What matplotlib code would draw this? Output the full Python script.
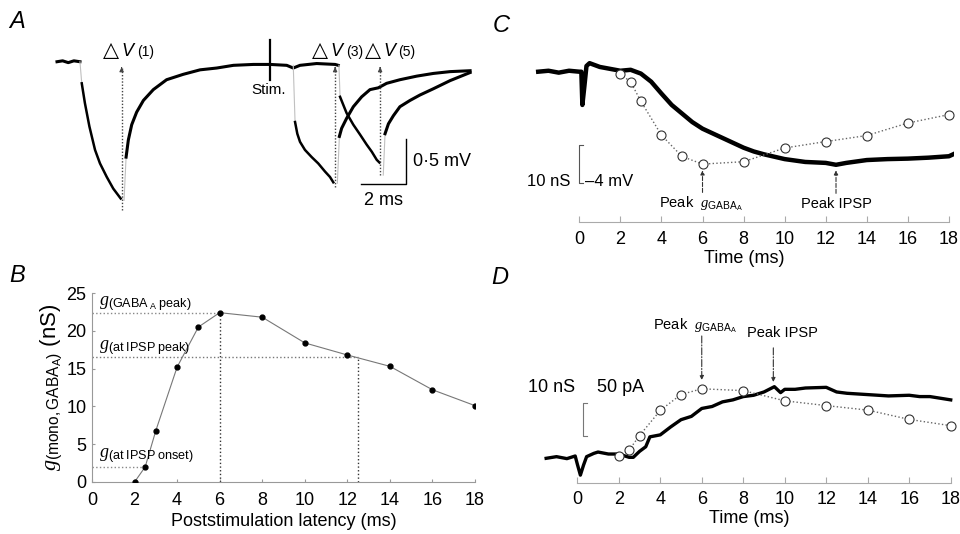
import matplotlib
matplotlib.use('Agg')
import matplotlib.pyplot as plt

plt.rcParams['font.family'] = ['Liberation Sans', 'DejaVu Sans']
plt.rcParams['mathtext.fontset'] = 'custom'
plt.rcParams['mathtext.rm'] = 'Liberation Sans'
plt.rcParams['mathtext.it'] = 'Liberation Serif:italic'
plt.rcParams['mathtext.bf'] = 'Liberation Sans:bold'

# ---------------- data ----------------
# Panel B / C / D : conductance estimates
latency_ms = [2, 2.5, 3, 4, 5, 6, 8, 10, 12, 14, 16, 18]
g_gaba_nS = [0, 2.0, 6.8, 15.2, 20.5, 22.4, 21.8, 18.4, 16.8, 15.3, 12.2, 10.1]
t_gpeak, g_gpeak = 6.0, 22.4
t_ipsp_peak, g_at_ipsp_peak = 12.5, 16.5
t_onset, g_at_onset = 2.5, 2.0
b_xticks = [0, 2, 4, 6, 8, 10, 12, 14, 16, 18]
b_yticks = [0, 5, 10, 15, 20, 25]

# Panel C : voltage trace (mV, relative to baseline)
c_time = [-2.0, -1.5, -1.0, -0.5, 0.0, 0.1, 0.15, 0.25, 0.35, 0.5, 1.0, 1.5, 2.0, 2.5,
          3.0, 3.5, 4.0, 4.5, 5.0, 5.5, 6.0, 6.5, 7.0, 7.5, 8.0, 8.5, 9.0, 10.0, 11.0,
          12.0, 12.5, 13.0, 14.0, 15.0, 16.0, 17.0, 18.0, 18.2]
c_mv = [0.0, 0.1, -0.1, 0.1, 0.0, 0.0, -3.5, -1.5, 0.6, 0.9, 0.5, 0.3, 0.1, 0.2,
        -0.2, -1.05, -2.3, -3.5, -4.4, -5.3, -6.0, -6.5, -7.0, -7.5, -8.0, -8.4, -8.7,
        -9.2, -9.5, -9.6, -9.8, -9.6, -9.3, -9.2, -9.15, -9.05, -8.9, -8.7]

# Panel D : current trace (pA, relative to baseline)
d_time = [-1.5, -1.0, -0.5, -0.1, 0.0, 0.15, 0.3, 0.45, 0.8, 1.0, 1.5, 2.0, 2.5, 2.7,
          3.0, 3.3, 3.5, 4.0, 4.5, 5.0, 5.5, 6.0, 6.5, 7.0, 7.5, 8.0, 8.5, 9.0, 9.5,
          9.8, 10.0, 10.5, 11.0, 12.0, 12.5, 13.0, 14.0, 15.0, 16.0, 16.5, 17.0, 18.0]
d_pa = [-1.5, 1, -2, 2, -10, -27, -12, 1, 6, 8, 5, 5, 0, 0,
        9, 16, 31, 34, 46, 57, 62, 74, 77, 84, 87, 92, 94, 99, 107,
        98, 103, 103, 105, 106, 99, 97, 95, 93, 94, 92, 92, 87]

# Panel A : voltage traces (ms, mV)
a1_base_t = [0.0, 0.25, 0.5, 0.75, 1.02]
a1_base_v = [0.0, 0.01, -0.01, 0.01, 0.0]
a1_fall_t = [1.10, 1.24, 1.44, 1.69, 1.91, 2.21, 2.50, 2.83]
a1_fall_v = [-0.24, -0.46, -0.72, -0.98, -1.13, -1.28, -1.41, -1.52]
a1_rise_t = [3.07, 3.17, 3.32, 3.54, 3.84, 4.28, 4.87, 5.61, 6.36, 7.10, 7.84, 8.73,
             9.47, 10.21, 10.50, 10.80, 11.54, 12.36, 12.50]
a1_rise_v = [-1.06, -0.87, -0.70, -0.56, -0.43, -0.31, -0.20, -0.14, -0.09, -0.07, -0.04,
             -0.03, -0.03, -0.04, -0.07, -0.04, -0.02, -0.03, -0.04]
a3_fall_t = [10.58, 10.68, 10.80, 11.02, 11.32, 11.61, 11.91, 12.13, 12.28]
a3_fall_v = [-0.67, -0.80, -0.89, -0.98, -1.06, -1.13, -1.22, -1.28, -1.34]
a3_rise_t = [12.55, 12.65, 12.87, 13.17, 13.54, 13.91, 14.28, 14.65, 15.24, 15.99,
             16.73, 17.47, 18.36]
a3_rise_v = [-0.83, -0.74, -0.63, -0.50, -0.39, -0.31, -0.29, -0.24, -0.20, -0.16,
             -0.13, -0.11, -0.10]
a5_fall_t = [12.58, 12.87, 13.17, 13.47, 13.76, 13.99, 14.21, 14.33]
a5_fall_v = [-0.39, -0.57, -0.70, -0.81, -0.92, -1.00, -1.09, -1.12]
a5_rise_t = [14.58, 14.73, 14.95, 15.24, 15.69, 16.13, 16.73, 17.47, 18.36]
a5_rise_v = [-0.80, -0.69, -0.60, -0.50, -0.43, -0.37, -0.30, -0.21, -0.12]
a_markers_t = [2.87, 12.36, 14.36]          # dV(1), dV(3), dV(5)
a_markers_vmin = [-1.65, -1.39, -1.26]
a_marker_labels = ['(1)', '(3)', '(5)']
a_label_t = [2.06, 11.35, 13.70]
a_stim_t = 9.47

# ---------------- figure ----------------
W, H = 960, 534
fig = plt.figure(figsize=(W / 100, H / 100), dpi=100)


def ax_px(l, t, r, b):
    return fig.add_axes([l / W, 1 - b / H, (r - l) / W, (b - t) / H])


TRACE = 'black'
FAINT = '#c0c0c0'
DOT = '#444444'

# ---------------- Panel A ----------------
axA = ax_px(40, 0, 480, 230)
axA.set_xlim(-0.756, 18.8)
axA.set_ylim(-1.87, 0.686)
axA.axis('off')
axA.plot(a1_base_t, a1_base_v, color=TRACE, lw=2.2)
axA.plot([a1_base_t[-1], a1_fall_t[0]], [0.0, a1_fall_v[0]], color=FAINT, lw=0.8)
axA.plot(a1_fall_t, a1_fall_v, color=TRACE, lw=1.8)
axA.plot([2.98, a1_rise_t[0]], [-1.54, a1_rise_v[0]], color=FAINT, lw=0.8)
axA.plot(a1_rise_t, a1_rise_v, color=TRACE, lw=2.2)
axA.plot([10.50, a3_fall_t[0]], [-0.04, a3_fall_v[0]], color=FAINT, lw=0.8)
axA.plot(a3_fall_t, a3_fall_v, color=TRACE, lw=1.8)
axA.plot([12.46, a3_rise_t[0]], [-1.35, a3_rise_v[0]], color=FAINT, lw=0.8)
axA.plot(a3_rise_t, a3_rise_v, color=TRACE, lw=2.2)
axA.plot([12.53, a5_fall_t[0]], [-0.04, a5_fall_v[0]], color=FAINT, lw=0.8)
axA.plot(a5_fall_t, a5_fall_v, color=TRACE, lw=1.8)
axA.plot([14.50, a5_rise_t[0]], [-1.26, a5_rise_v[0]], color=FAINT, lw=0.8)
axA.plot(a5_rise_t, a5_rise_v, color=TRACE, lw=2.2)
# stimulus
axA.plot([a_stim_t, a_stim_t], [0.24, -0.20], color=TRACE, lw=1.6)
axA.text(a_stim_t - 0.08, -0.31, 'Stim.', ha='center', va='center', fontsize=11)
# dV markers
for t, vmin, lab, lt in zip(a_markers_t, a_markers_vmin, a_marker_labels, a_label_t):
    axA.plot([t, t], [vmin, -0.07], color=DOT, lw=1.0, ls=(0, (1, 1.3)))
    axA.annotate('', xy=(t, -0.03), xytext=(t, -0.10),
                 arrowprops=dict(arrowstyle='-|>', color=DOT, lw=0.8, mutation_scale=6))
    axA.text(lt, 0.06, '\u25B3', ha='left', va='baseline', fontsize=15,
             family=['DejaVu Sans'])
    axA.text(lt + 0.80, 0.06, 'V', ha='left', va='baseline', fontsize=13, style='italic')
    axA.text(lt + 1.48, 0.06, lab, ha='left', va='baseline', fontsize=10)
# scale bar
axA.plot([13.51, 15.51, 15.51], [-1.363, -1.363, -0.863], color=TRACE, lw=1.0)
axA.text(15.84, -1.11, '0\u00b75 mV', ha='left', va='center', fontsize=13)
axA.text(14.5, -1.54, '2 ms', ha='center', va='center', fontsize=13)

# ---------------- Panel B ----------------
axB = ax_px(92, 293, 475, 482)
axB.set_xlim(0, 18)
axB.set_ylim(0, 25)
for s in ['top', 'right']:
    axB.spines[s].set_visible(False)
for s in ['left', 'bottom']:
    axB.spines[s].set_color('#999999')
    axB.spines[s].set_linewidth(0.8)
axB.set_xticks(b_xticks)
axB.set_yticks(b_yticks)
axB.tick_params(axis='both', direction='in', length=2, color='#999999', labelsize=13)
axB.tick_params(axis='x', pad=7)
axB.tick_params(axis='y', pad=4)
axB.plot([0, t_gpeak], [g_gpeak, g_gpeak], ls=':', color='#888888', lw=1)
axB.plot([t_gpeak, t_gpeak], [0, g_gpeak], ls=':', color='#333333', lw=1)
axB.plot([0, t_ipsp_peak], [g_at_ipsp_peak, g_at_ipsp_peak], ls=':', color='#777777', lw=1)
axB.plot([t_ipsp_peak, t_ipsp_peak], [0, g_at_ipsp_peak], ls=':', color='#333333', lw=1)
axB.plot([0, t_onset], [g_at_onset, g_at_onset], ls=':', color='#888888', lw=1)
axB.plot(latency_ms, g_gaba_nS, color='#777777', lw=0.8, marker='o', ms=3.5,
         mfc='black', mec='black', zorder=3)
axB.text(0.35, 23.6, r'$g_{\mathrm{(GABA_{\ A}\ peak)}}$', fontsize=13, ha='left', va='center')
axB.text(0.35, 17.8, r'$g_{\mathrm{(at\ IPSP\ peak)}}$', fontsize=13, ha='left', va='center')
axB.text(0.35, 3.5, r'$g_{\mathrm{(at\ IPSP\ onset)}}$', fontsize=13, ha='left', va='center')
axB.set_xlabel('Poststimulation latency (ms)', fontsize=13, labelpad=3)
axB.set_ylabel(r'$g_{\mathrm{(mono,GABA_A)}}$ (nS)', fontsize=16, labelpad=2)

# ---------------- Panel C ----------------
axC = ax_px(534.1, 30, 954.1, 221.7)
axC.set_xlim(-2.2, 18.25)
axC.set_ylim(-15.79, 4.39)
for s in ['top', 'right', 'left']:
    axC.spines[s].set_visible(False)
axC.spines['bottom'].set_bounds(0, 18)
axC.spines['bottom'].set_color('#aaaaaa')
axC.spines['bottom'].set_linewidth(0.8)
axC.set_yticks([])
axC.set_xticks(b_xticks)
axC.tick_params(axis='x', direction='in', length=4, color='#aaaaaa', labelsize=13, pad=7)
axC.set_xlabel('Time (ms)', fontsize=13, labelpad=1)
axC.plot(c_time, c_mv, color=TRACE, lw=3.2, zorder=2)
axC2 = axC.twinx()
axC2.set_ylim(36.7, -10.9)
axC2.axis('off')
axC2.plot(latency_ms, g_gaba_nS, ls=':', color='#666666', lw=1, marker='o', ms=6.5,
          mfc='white', mec='#333333', mew=0.8, zorder=3)
# scale bracket
axC.plot([0.2, 0, 0, 0.2], [-7.73, -7.73, -11.73, -11.73], color='#555555', lw=0.8)
axC.text(-0.45, -11.6, '10 nS', ha='right', va='center', fontsize=12)
axC.text(0.3, -11.6, '\u20134 mV', ha='left', va='center', fontsize=12)
# peak markers
axC.annotate('', xy=(t_gpeak, -10.1), xytext=(t_gpeak, -13.0),
             arrowprops=dict(arrowstyle='-|>', color='#333333', lw=0.8, ls='--',
                             mutation_scale=6))
axC.annotate('', xy=(t_ipsp_peak, -10.1), xytext=(t_ipsp_peak, -13.1),
             arrowprops=dict(arrowstyle='-|>', color='#333333', lw=0.8, ls='--',
                             mutation_scale=6))
axC.text(5.95, -13.9, r'Peak  $g_{\mathrm{GABA_A}}$', ha='center', va='center', fontsize=10.5)
axC.text(12.54, -13.9, 'Peak IPSP', ha='center', va='center', fontsize=10.5)

# ---------------- Panel D ----------------
axD = ax_px(542, 300, 955.9, 483)
axD.set_xlim(-1.7, 18.25)
axD.set_ylim(-38.9, 238.3)
for s in ['top', 'right', 'left']:
    axD.spines[s].set_visible(False)
axD.spines['bottom'].set_bounds(0, 18)
axD.spines['bottom'].set_color('#aaaaaa')
axD.spines['bottom'].set_linewidth(0.8)
axD.set_yticks([])
axD.set_xticks(b_xticks)
axD.tick_params(axis='x', direction='in', length=4, color='#aaaaaa', labelsize=13, pad=6)
axD.set_xlabel('Time (ms)', fontsize=13, labelpad=1)
axD.plot(d_time, d_pa, color=TRACE, lw=2.4, zorder=2)
axD2 = axD.twinx()
axD2.set_ylim(-9, 52)
axD2.axis('off')
axD2.plot(latency_ms, g_gaba_nS, ls=':', color='#666666', lw=1, marker='o', ms=6.5,
          mfc='white', mec='#333333', mew=0.8, zorder=3)
axD.plot([0.49, 0.29, 0.29, 0.49], [82, 82, 32, 32], color='#777777', lw=0.8)
axD.text(-1.22, 106.5, '10 nS', ha='center', va='center', fontsize=13)
axD.text(2.1, 106.5, '50 pA', ha='center', va='center', fontsize=13)
axD.annotate('', xy=(t_gpeak, 113), xytext=(t_gpeak, 188),
             arrowprops=dict(arrowstyle='-|>', color='#333333', lw=0.8, ls='-.',
                             mutation_scale=6))
axD.annotate('', xy=(9.45, 110), xytext=(9.45, 170),
             arrowprops=dict(arrowstyle='-|>', color='#333333', lw=0.8, ls='-.',
                             mutation_scale=6))
axD.text(5.67, 200, r'Peak  $g_{\mathrm{GABA_A}}$', ha='center', va='center', fontsize=10.5)
axD.text(9.9, 188, 'Peak IPSP', ha='center', va='center', fontsize=10.5)

# ---------------- panel letters ----------------
for lab, x, y in [('A', 17, 22), ('C', 501, 25), ('B', 17, 275), ('D', 500, 277)]:
    fig.text(x / W, 1 - y / H, lab, fontsize=17, style='italic', ha='center', va='center')

fig.savefig('out.png', dpi=100)
